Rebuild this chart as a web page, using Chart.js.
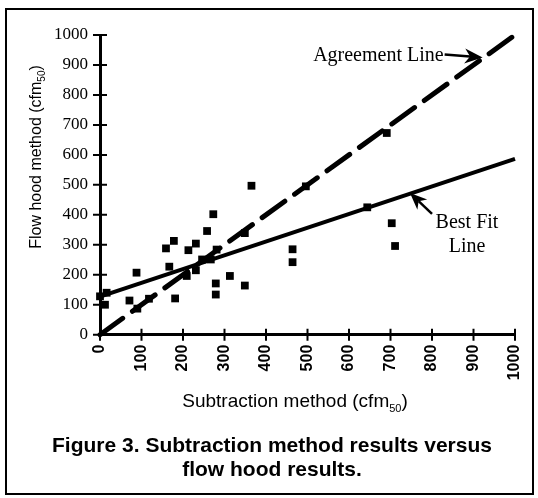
<!DOCTYPE html>
<html>
<head>
<meta charset="utf-8">
<script src="https://cdn.jsdelivr.net/npm/chart.js@4.4.0/dist/chart.umd.min.js"></script>
<style>
  html, body { margin: 0; padding: 0; background: #fff; }
  #wrap { width: 538px; height: 498px; }
</style>
</head>
<body>
<div id="wrap"><canvas id="grafico" width="538" height="498"></canvas></div>
<script>
// medições (cfm50): método de subtração x flow hood
const subtraction = [0, 16, 12, 88, 71, 90, 118, 159, 178, 167, 181, 209, 213, 231, 231, 246, 258, 267, 273, 281, 279, 279, 313, 349, 349, 365, 464, 464, 496, 644, 691, 703, 711];
const flowHood = [128, 140, 100, 207, 114, 87, 120, 288, 313, 227, 121, 196, 282, 304, 215, 251, 346, 251, 402, 284, 171, 134, 196, 339, 164, 497, 285, 242, 495, 425, 673, 372, 296];

// linha de concordância (y = x) e linha de melhor ajuste
const agreeX = [0, 1000];
const agreeY = [0, 1000];
const fitX = [0, 1000];
const fitY = [127, 587];

// marcas dos eixos
const ticksCfm = [0, 100, 200, 300, 400, 500, 600, 700, 800, 900, 1000];

const legenda = ['Figure 3. Subtraction method results versus', 'flow hood results.'];
const textoConcordancia = 'Agreement Line';
const textoAjuste = ['Best Fit', 'Line'];

const SANS = '"Liberation Sans", Arial, Helvetica, sans-serif';
const SERIF = '"Liberation Serif", "Times New Roman", serif';

function pares(xs, ys) {
  return xs.map((v, i) => ({ x: v, y: ys[i] }));
}

function usarTicks(scale) {
  scale.ticks = ticksCfm.map(v => ({ value: v }));
}

// título de eixo com o "50" subscrito
function tituloEixo(ctx, base, sub, fim, size, cx, cy) {
  const grande = size + 'px ' + SANS;
  const pequeno = Math.round(size * 0.6) + 'px ' + SANS;
  ctx.font = grande;
  const w1 = ctx.measureText(base).width;
  const w3 = ctx.measureText(fim).width;
  ctx.font = pequeno;
  const w2 = ctx.measureText(sub).width;
  const x0 = cx - (w1 + w2 + w3) / 2;
  ctx.textAlign = 'left';
  ctx.textBaseline = 'alphabetic';
  ctx.font = grande;
  ctx.fillText(base, x0, cy);
  ctx.font = pequeno;
  ctx.fillText(sub, x0 + w1, cy + size * 0.28);
  ctx.font = grande;
  ctx.fillText(fim, x0 + w1 + w2, cy);
}

function seta(ctx, x0, y0, x1, y1, head) {
  const ang = Math.atan2(y1 - y0, x1 - x0);
  const c = Math.cos(ang), s = Math.sin(ang);
  ctx.beginPath();
  ctx.moveTo(x0, y0);
  ctx.lineTo(x1 - head * 0.7 * c, y1 - head * 0.7 * s);
  ctx.stroke();
  ctx.beginPath();
  ctx.moveTo(x1, y1);
  ctx.lineTo(x1 - head * c + head * 0.42 * s, y1 - head * s - head * 0.42 * c);
  ctx.lineTo(x1 - head * 0.7 * c, y1 - head * 0.7 * s);
  ctx.lineTo(x1 - head * c - head * 0.42 * s, y1 - head * s + head * 0.42 * c);
  ctx.closePath();
  ctx.fill();
}

const moldura = {
  id: 'moldura',
  afterDraw(chart) {
    const ctx = chart.ctx;
    const sx = chart.scales.x;
    const sy = chart.scales.y;
    ctx.save();
    ctx.strokeStyle = '#000';
    ctx.fillStyle = '#000';

    // moldura da figura
    ctx.lineWidth = 2;
    ctx.strokeRect(6, 9, 527, 485);

    // marcas cruzando os eixos
    ctx.beginPath();
    sx.ticks.forEach((t, i) => {
      const px = sx.getPixelForTick(i);
      ctx.moveTo(px, sy.bottom - 6);
      ctx.lineTo(px, sy.bottom + 6);
    });
    sy.ticks.forEach((t, i) => {
      const py = sy.getPixelForTick(i);
      ctx.moveTo(sx.left - 7, py);
      ctx.lineTo(sx.left + 7, py);
    });
    ctx.stroke();

    // títulos dos eixos
    tituloEixo(ctx, 'Subtraction method (cfm', '50', ')', 19, 295, 407);
    ctx.save();
    ctx.translate(41, 157);
    ctx.rotate(-Math.PI / 2);
    tituloEixo(ctx, 'Flow hood method (cfm', '50', ')', 16, 0, 0);
    ctx.restore();

    // anotações
    ctx.font = '20px ' + SERIF;
    ctx.lineWidth = 2.5;
    const pa = { x: sx.getPixelForValue(922), y: sy.getPixelForValue(925) };
    seta(ctx, pa.x - 38, pa.y - 3, pa.x, pa.y, 18);
    ctx.textAlign = 'right';
    ctx.textBaseline = 'alphabetic';
    ctx.fillText(textoConcordancia, pa.x - 39, pa.y + 4);

    const pb = { x: sx.getPixelForValue(747), y: sy.getPixelForValue(473) };
    seta(ctx, pb.x + 22, pb.y + 21, pb.x, pb.y, 17);
    ctx.textAlign = 'center';
    ctx.fillText(textoAjuste[0], pb.x + 57, pb.y + 35);
    ctx.fillText(textoAjuste[1], pb.x + 57, pb.y + 59);
    ctx.restore();
  }
};

new Chart(document.getElementById('grafico'), {
  type: 'scatter',
  data: {
    datasets: [
      {
        type: 'line',
        data: pares(agreeX, agreeY),
        borderColor: '#000',
        borderWidth: 5,
        borderDash: [28, 12],
        borderCapStyle: 'round',
        pointRadius: 0,
        fill: false,
        clip: false
      },
      {
        type: 'line',
        data: pares(fitX, fitY),
        borderColor: '#000',
        borderWidth: 4,
        pointRadius: 0,
        fill: false,
        clip: false
      },
      {
        data: pares(subtraction, flowHood),
        pointStyle: 'rect',
        pointRadius: 5.5,
        backgroundColor: '#000',
        borderColor: '#000',
        borderWidth: 0,
        clip: false
      }
    ]
  },
  options: {
    responsive: false,
    animation: false,
    layout: { padding: { top: 35, left: 29, right: 23, bottom: 16 } },
    plugins: {
      legend: { display: false },
      tooltip: { enabled: false },
      title: {
        display: true,
        position: 'bottom',
        text: legenda,
        color: '#000',
        padding: 0,
        font: { family: SANS, size: 21, weight: 'bold', lineHeight: 1.15 }
      }
    },
    scales: {
      x: {
        type: 'linear',
        min: 0,
        max: 1000,
        afterBuildTicks: usarTicks,
        afterFit: s => { s.height = 99; s.paddingLeft = 0; s.paddingRight = 0; },
        grid: { display: false, drawTicks: false },
        border: { display: true, color: '#000', width: 3 },
        ticks: {
          color: '#000',
          autoSkip: false,
          minRotation: 90,
          maxRotation: 90,
          padding: 10,
          callback: v => String(v),
          font: { family: SANS, size: 16, weight: 'bold' }
        }
      },
      y: {
        type: 'linear',
        min: 0,
        max: 1000,
        afterBuildTicks: usarTicks,
        afterFit: s => { s.width = 71; s.paddingTop = 0; s.paddingBottom = 0; },
        grid: { display: false, drawTicks: false },
        border: { display: true, color: '#000', width: 3 },
        ticks: {
          color: '#000',
          autoSkip: false,
          padding: 12,
          callback: v => String(v),
          font: { family: SERIF, size: 17 }
        }
      }
    }
  },
  plugins: [moldura]
});
</script>
</body>
</html>
